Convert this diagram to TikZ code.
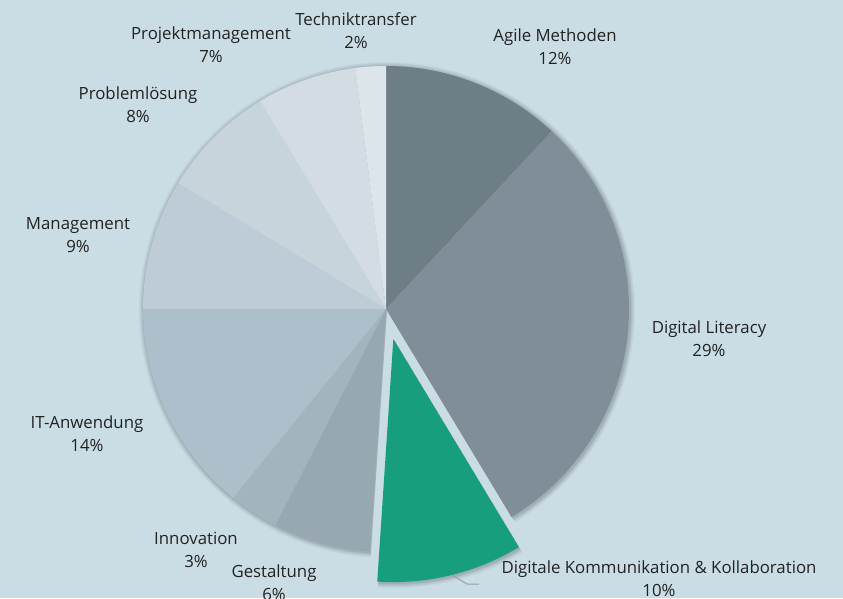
\documentclass[tikz,border=0pt]{standalone}
\usepackage{fontspec}
\setmainfont{Open Sans}
\usetikzlibrary{calc}
\begin{document}
\begin{tikzpicture}[x=1pt,y=1pt,
  lbl/.style={align=center,text=txtc,inner sep=0pt,font=\fontsize{16.8}{23}\selectfont},
  lead/.style={draw=leadc,line width=1pt}]
\definecolor{bgc}{HTML}{CADDE5}
\definecolor{txtc}{HTML}{222222}
\definecolor{leadc}{HTML}{9A9EA2}
\definecolor{cAgile}{HTML}{6E7E87}
\definecolor{cDL}{HTML}{7F8E98}
\definecolor{cDKK}{HTML}{179E7C}
\definecolor{cGest}{HTML}{97A8B3}
\definecolor{cInno}{HTML}{A3B4BF}
\definecolor{cIT}{HTML}{ADBFCA}
\definecolor{cMan}{HTML}{BDCCD6}
\definecolor{cProb}{HTML}{C7D4DC}
\definecolor{cProj}{HTML}{D3DCE3}
\definecolor{cTech}{HTML}{DCE5EA}
\fill[bgc] (0,0) rectangle (843,598);
\useasboundingbox (0,0) rectangle (843,598);
\def\R{243}
\coordinate (c) at (386,289);
\coordinate (cx) at ($(c)+(-76.3:31)$);
% shadows
\foreach \d/\o in {5/0.03,4/0.035,3/0.04,2/0.05,1/0.06}{
  \fill[black,opacity=\o] ([shift={(1,-1)}]c) -- ++(-58.9:\R+\d) arc[start angle=-58.9,end angle=266.2,radius=\R+\d] -- cycle;
  \fill[black,opacity=\o] ([shift={(1,-1)}]cx) -- ++(-93.8:\R+\d) arc[start angle=-93.8,end angle=-58.9,radius=\R+\d] -- cycle;
}
% slices
\foreach \a/\b/\col in {47/90/cAgile,-58.9/47/cDL,-117.1/-93.8/cGest,-129/-117.1/cInno,-180/-129/cIT,-211.2/-180/cMan,-238.8/-211.2/cProb,-262.7/-238.8/cProj,-270/-262.7/cTech}{
  \fill[\col] (c) -- ++(\a:\R) arc[start angle=\a,end angle=\b,radius=\R] -- cycle;
}
\fill[cDKK] (cx) -- ++(-93.8:\R) arc[start angle=-93.8,end angle=-58.9,radius=\R] -- cycle;
% labels
\node[lbl] (tech) at (356,567) {Techniktransfer\\2\%};
\node[lbl] (proj) at (211,553.5) {Projektmanagement\\7\%};
\node[lbl] (prob) at (138,493) {Problemlösung\\8\%};
\node[lbl] (man) at (78,362.5) {Management\\9\%};
\node[lbl] (it) at (87,164.5) {IT-Anwendung\\14\%};
\node[lbl] (inno) at (196,48) {Innovation\\3\%};
\node[lbl] (gest) at (274,15.5) {Gestaltung\\6\%};
\node[lbl] (dkk) at (659,19) {Digitale Kommunikation \& Kollaboration\\10\%};
\node[lbl] (dl) at (709,259) {Digital Literacy\\29\%};
\node[lbl] (agile) at (555,551) {Agile Methoden\\12\%};
% leader
\coordinate (l1) at (452,23);
\coordinate (l2) at (467,14);
\coordinate (l3) at (479,14);
\draw[lead] (l1) -- (l2) -- (l3);
\end{tikzpicture}
\end{document}
